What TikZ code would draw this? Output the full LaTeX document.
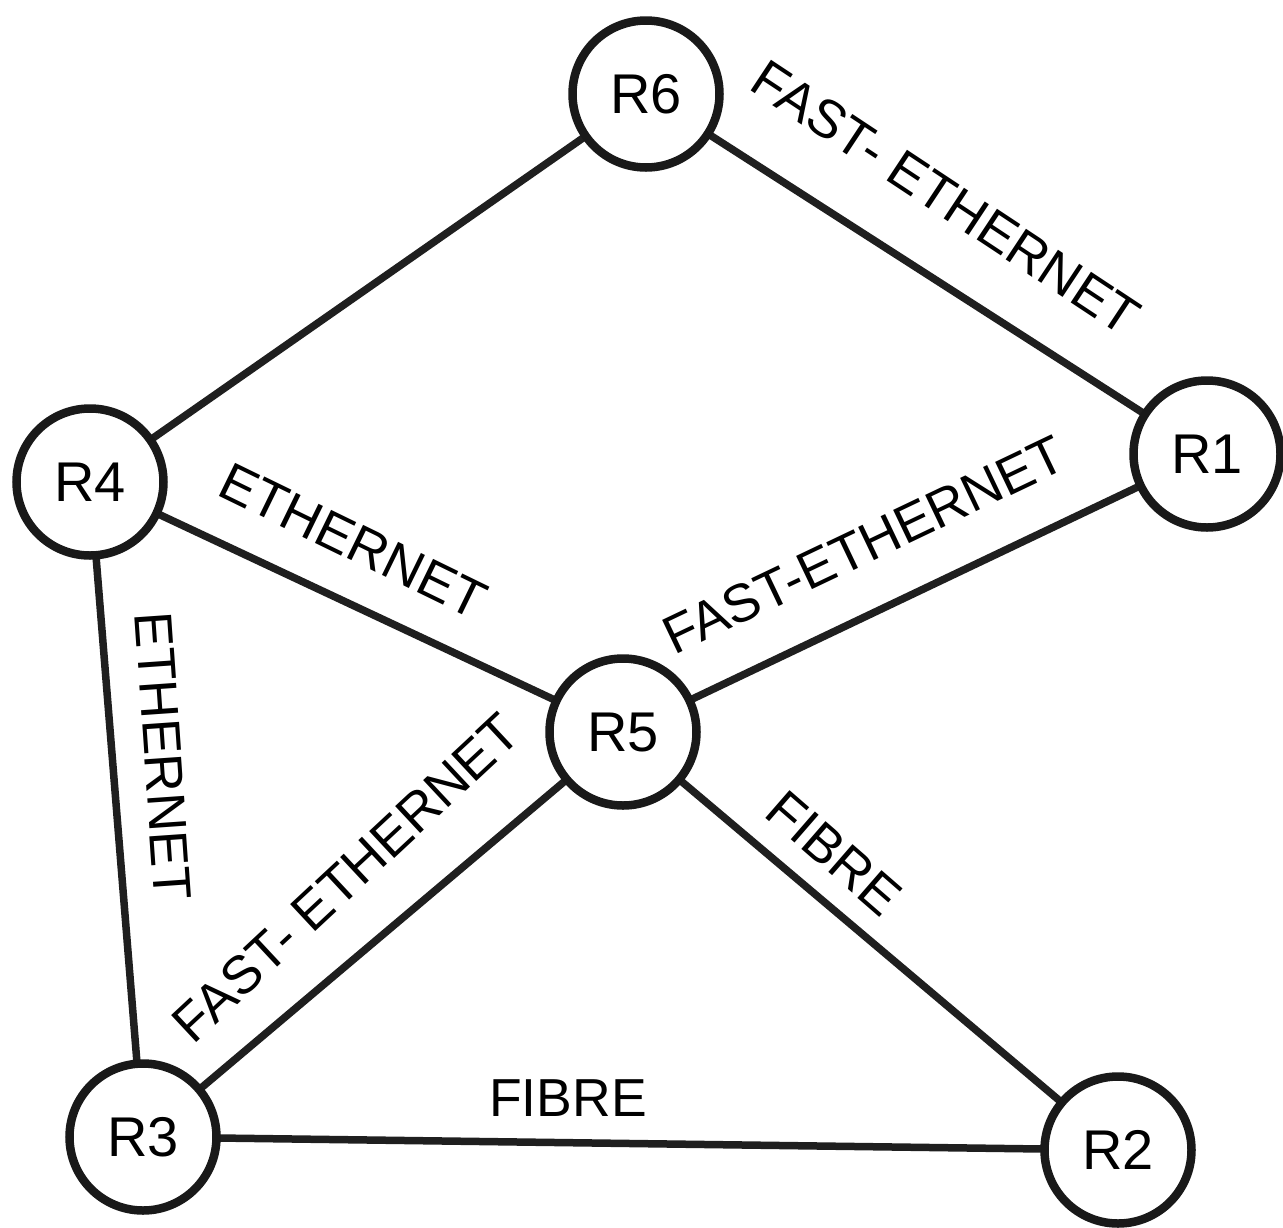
\documentclass[tikz,border=0pt]{standalone}
\usepackage{fontspec}
\setmainfont{Liberation Sans}
\begin{document}
\begin{tikzpicture}[x=1pt,y=-1pt,
  router/.style={circle,draw=black!90,line width=8.5pt,fill=white,minimum size=147pt,inner sep=0pt,font=\fontsize{56}{60}\selectfont},
  link/.style={draw=black!88,line width=7.5pt},
  lbl/.style={font=\fontsize{53.5}{60}\selectfont,inner sep=0pt}]
\useasboundingbox (0,0) rectangle (1283,1227);
% centres
\coordinate (c6) at (646,94);
\coordinate (c1) at (1207,454);
\coordinate (c4) at (90,482);
\coordinate (c5) at (623,732);
\coordinate (c3) at (143,1137);
\coordinate (c2) at (1118,1150);
% links
\draw[link] (c6) -- (c4);
\draw[link] (c6) -- (c1);
\draw[link] (c4) -- (c5);
\draw[link] (c5) -- (c1);
\draw[link] (c4) -- (c3);
\draw[link] (c5) -- (c3);
\draw[link] (c5) -- (c2);
\draw[link] (c3) -- (c2);
% routers
\node[router] (R6) at (c6) {R6};
\node[router] (R1) at (c1) {R1};
\node[router] (R4) at (c4) {R4};
\node[router] (R5) at (c5) {R5};
\node[router] (R3) at (c3) {R3};
\node[router] (R2) at (c2) {R2};
% labels
\node[lbl,rotate=-33.5] (l61) at (946,198) {FAST- ETHERNET};
\node[lbl,rotate=-26] (l45) at (353,541) {ETHERNET};
\node[lbl,rotate=25.5] (l51) at (864,545) {FAST-ETHERNET};
\node[lbl,rotate=-86] (l43) at (163,756) {ETHERNET};
\node[lbl,rotate=43] (l53) at (346,878) {FAST- ETHERNET};
\node[lbl,rotate=-41] (l52) at (834,853) {FIBRE};
\node[lbl] (l32) at (568,1098) {FIBRE};
\end{tikzpicture}
\end{document}
